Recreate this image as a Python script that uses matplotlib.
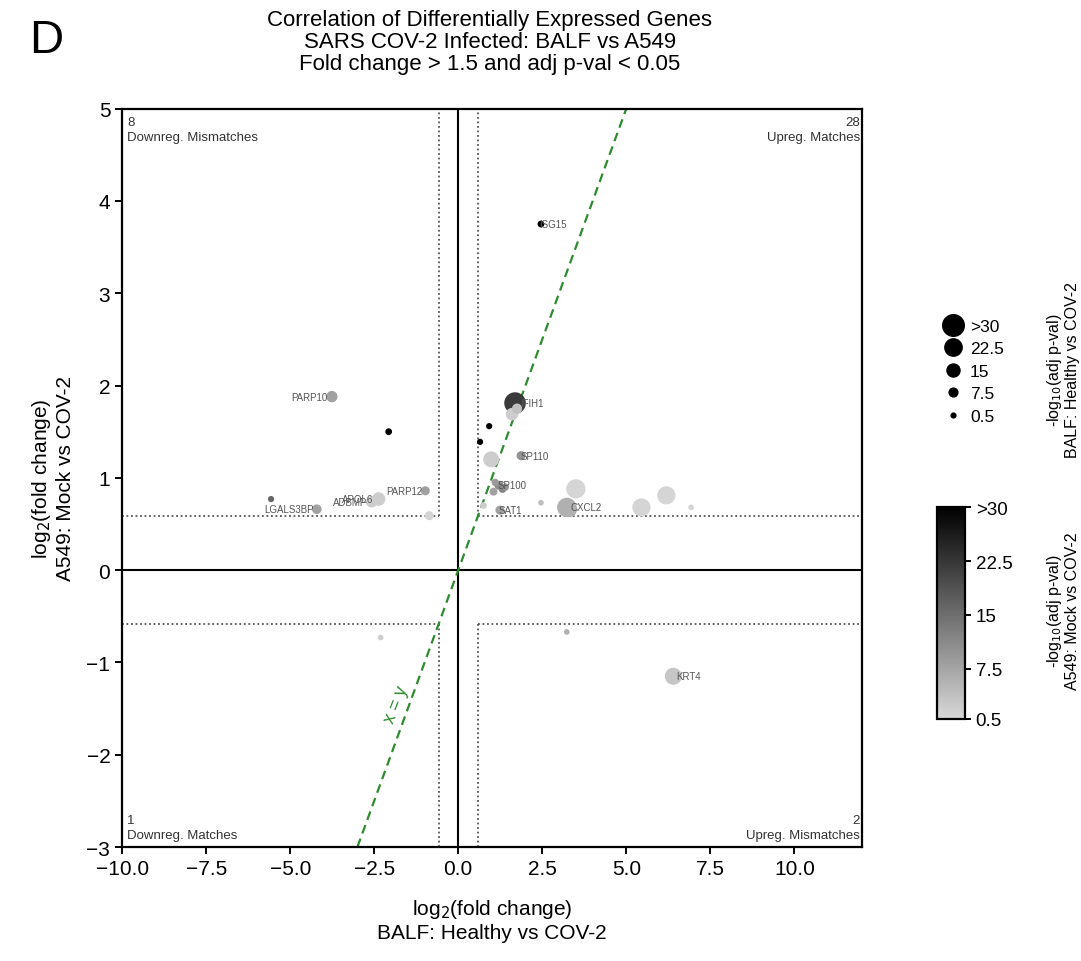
import numpy as np
import matplotlib
matplotlib.use("Agg")
import matplotlib.pyplot as plt
from matplotlib.colors import LinearSegmentedColormap, Normalize
from matplotlib.lines import Line2D

plt.rcParams["font.family"] = ["Liberation Sans", "DejaVu Sans"]

# ---- data ----
genes = ["ISG15", "IFIH1", "", "", "", "", "SP110", "SP100", "", "", "", "CXCL2", "",
         "SAT1", "", "", "", "", "", "", "", "",
         "PARP10", "", "PARP12", "APOL6", "ADBMP", "LGALS3BP", "", "",
         "", "", "KRT4"]
balf_lfc = [2.46, 1.69, 1.60, 0.92, 0.65, 0.98, 1.87, 1.21, 1.10, 1.32, 3.50, 3.23, 2.46,
            1.24, 5.45, 6.19, 6.93, 1.05, 1.40, 3.30, 0.75, 1.75,
            -3.76, -2.07, -0.98, -2.37, -2.58, -4.21, -5.57, -0.86,
            -2.31, 3.23, 6.40]
a549_lfc = [3.75, 1.81, 1.69, 1.56, 1.39, 1.20, 1.24, 0.92, 0.95, 0.88, 0.88, 0.68, 0.73,
            0.65, 0.68, 0.81, 0.68, 0.85, 0.90, 0.66, 0.70, 1.75,
            1.88, 1.50, 0.86, 0.77, 0.74, 0.66, 0.77, 0.59,
            -0.73, -0.67, -1.15]
balf_nlp = [4, 30, 14, 3, 3, 20, 8, 8, 5, 6, 26, 26, 2,
            8, 24, 24, 2, 6, 5, 20, 4, 10,
            12, 4, 8, 16, 12, 9, 3, 8,
            2, 2, 22]
a549_nlp = [30, 22, 2, 30, 30, 2, 10, 11, 9, 12, 1, 6, 4,
            8, 1, 1, 1, 8, 10, 6, 2, 4,
            8, 30, 8, 2, 2, 8, 16, 1,
            2, 6, 3]
counts = {"UL": 8, "UR": 28, "LL": 1, "LR": 2}
size_ticks = [30, 22.5, 15, 7.5, 0.5]
size_labels = [">30", "22.5", "15", "7.5", "0.5"]
cbar_ticks = [0.5, 7.5, 15, 22.5, 30]
cbar_labels = ["0.5", "7.5", "15", "22.5", ">30"]

thr = np.log2(1.5)

def msize(v):
    v = np.clip(np.asarray(v, float), 0, 30)
    d_px = 4.5 + 0.57 * v
    return (d_px * 0.72) ** 2

cmap = LinearSegmentedColormap.from_list("g", ["#d8d8d8", "#000000"])
norm = Normalize(0.5, 30, clip=True)

fig = plt.figure(figsize=(10.81, 9.62), dpi=100)
ax = fig.add_axes([0.113, 0.1185, 0.684, 0.7675])
ax.set_xlim(-10, 12)
ax.set_ylim(-3, 5)

# reference lines
ax.axhline(0, color="black", lw=1.5, zorder=1)
ax.axvline(0, color="black", lw=1.5, zorder=1)
dkw = dict(color="#555555", lw=1.3, ls=(0, (1, 1.5)), zorder=1)
ax.plot([-thr, -thr], [thr, 5], **dkw)
ax.plot([-10, -thr], [thr, thr], **dkw)
ax.plot([thr, thr], [thr, 5], **dkw)
ax.plot([thr, 12], [thr, thr], **dkw)
ax.plot([-thr, -thr], [-thr, -3], **dkw)
ax.plot([-10, -thr], [-thr, -thr], **dkw)
ax.plot([thr, thr], [-thr, -3], **dkw)
ax.plot([thr, 12], [-thr, -thr], **dkw)
ax.plot([-3, 5], [-3, 5], color="#2e8b2e", lw=1.6, ls=(0, (4, 2.5)), zorder=2)
ax.text(-1.85, -1.45, "x = y", color="#2e8b2e", fontsize=13, rotation=68,
        ha="center", va="center", zorder=2)

order = np.argsort(balf_nlp)[::-1]
bx = np.array(balf_lfc)[order]
ay = np.array(a549_lfc)[order]
ax.scatter(bx, ay, s=msize(np.array(balf_nlp)[order]),
           c=np.clip(np.array(a549_nlp)[order], 0.5, 30), cmap=cmap, norm=norm,
           edgecolors="none", zorder=3)

for g, x, y, s in zip(genes, balf_lfc, a549_lfc, balf_nlp):
    if not g:
        continue
    r = np.sqrt(msize(s)) / 2
    if x < 0:
        ax.annotate(g, (x, y), xytext=(-r + 1, 0), textcoords="offset points",
                    ha="right", va="center", fontsize=7, color="#555555", zorder=4)
    else:
        ax.annotate(g, (x, y), xytext=(r - 4, 0), textcoords="offset points",
                    ha="left", va="center", fontsize=7, color="#555555", zorder=4)

ck = dict(fontsize=9.5, color="#333333", linespacing=1.3)
ax.text(-9.85, 4.92, f"{counts['UL']}\nDownreg. Mismatches", ha="left", va="top", **ck)
ax.text(11.95, 4.92, f"{counts['UR']}\nUpreg. Matches", ha="right", va="top", **ck)
ax.text(-9.85, -2.93, f"{counts['LL']}\nDownreg. Matches", ha="left", va="bottom", **ck)
ax.text(11.95, -2.93, f"{counts['LR']}\nUpreg. Mismatches", ha="right", va="bottom", **ck)

ax.set_xticks([-10, -7.5, -5, -2.5, 0, 2.5, 5, 7.5, 10])
ax.set_xticklabels(["\u221210.0", "\u22127.5", "\u22125.0", "\u22122.5", "0.0", "2.5",
                    "5.0", "7.5", "10.0"])
ax.set_yticks(range(-3, 6))
ax.tick_params(labelsize=15, width=1.4, length=5)
for sp in ax.spines.values():
    sp.set_linewidth(1.6)
ax.set_xlabel("log$_2$(fold change)\nBALF: Healthy vs COV-2", fontsize=15, labelpad=14)
ax.set_ylabel("log$_2$(fold change)\nA549: Mock vs COV-2", fontsize=15, labelpad=8)

fig.text(0.453, 0.990, "Correlation of Differentially Expressed Genes\n"
         "SARS COV-2 Infected: BALF vs A549\nFold change > 1.5 and adj p-val < 0.05",
         ha="center", va="top", fontsize=16, linespacing=1.08)
fig.text(0.027, 0.957, "D", fontsize=34, ha="left", va="center")

# size legend
handles = [Line2D([], [], ls="none", marker="o", color="black",
                  markersize=np.sqrt(msize(v))) for v in size_ticks]
fig.legend(handles, size_labels, loc="center left", bbox_to_anchor=(0.862, 0.613),
           frameon=False, fontsize=12.5, handletextpad=0.3, labelspacing=0.42,
           borderpad=0, handlelength=1.4)
fig.text(0.983, 0.615, "-log$_{10}$(adj p-val)\nBALF: Healthy vs COV-2", rotation=90,
         ha="center", va="center", fontsize=11.5, linespacing=1.1)

# colorbar
cax = fig.add_axes([0.867, 0.2516, 0.026, 0.22])
sm = matplotlib.cm.ScalarMappable(norm=norm, cmap=cmap)
cb = fig.colorbar(sm, cax=cax, ticks=cbar_ticks)
cb.ax.set_yticklabels(cbar_labels)
cb.ax.tick_params(labelsize=13.5, width=1.4, length=4)
cb.outline.set_linewidth(1.6)
fig.text(0.983, 0.365, "-log$_{10}$(adj p-val)\nA549: Mock vs COV-2", rotation=90,
         ha="center", va="center", fontsize=11.5, linespacing=1.1)

fig.savefig("out.png", dpi=100)
